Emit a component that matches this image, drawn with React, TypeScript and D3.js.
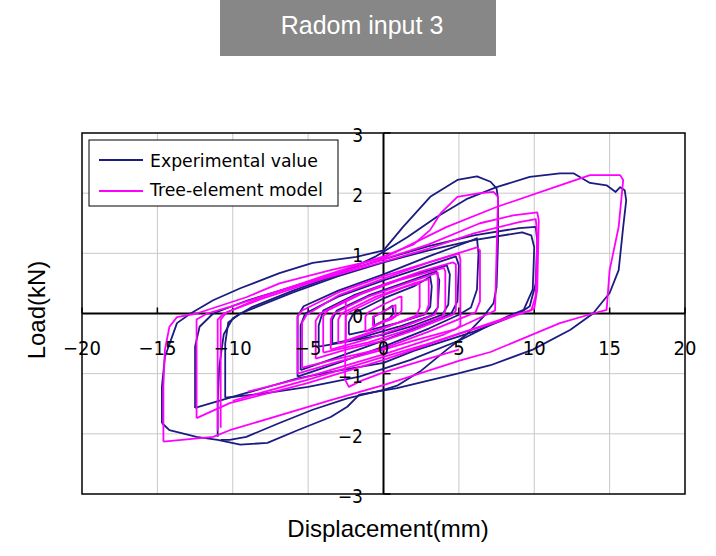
import React from "react";
import * as d3 from "d3";

type Pt = [number, number];

// ---- axis ticks ----
const xTicks = [-20, -15, -10, -5, 0, 5, 10, 15, 20];
const yTicks = [-3, -2, -1, 0, 1, 2, 3];
const xGrid = [-15, -10, -5, 5, 10, 15];
const yGrid = [-2, -1, 1, 2];

// ---- Experimental value (navy) loops: [displacement mm, load kN] ----
const expLoop1: Pt[] = [[-0.6,-0.05],[0.3,0.08],[0.6,0.13],[0.65,0.0],[0.4,-0.08],[-0.3,-0.16],[-0.6,-0.2],[-0.65,-0.06]];
const expLoop2: Pt[] = [[-2.3,-0.35],[-2.3,-0.15],[-2.0,0.0],[0,0.25],[2,0.45],[3.1,0.61],[3.2,0.45],[3.1,0.11],[2.7,-0.02],[1,-0.15],[-1,-0.28],[-2.3,-0.35]];
const expLoop2b: Pt[] = [[-3.4,-0.5],[-3.4,-0.1],[-3.1,0.05],[-1,0.3],[1.5,0.52],[3.5,0.7],[3.7,0.55],[3.6,0.1],[3.2,-0.03],[1,-0.22],[-1.5,-0.4],[-3.4,-0.5]];
const expLoop3: Pt[] = [[-4.3,-0.55],[-4.3,-0.2],[-4,0.05],[-2,0.3],[0,0.48],[2.5,0.68],[4.2,0.8],[4.4,0.65],[4.3,0.15],[3.9,-0.02],[2,-0.2],[0,-0.35],[-2.5,-0.47],[-4.3,-0.55]];
const expLoop4: Pt[] = [[-5.5,-0.94],[-5.5,-0.2],[-5.2,0.0],[-3,0.28],[0,0.55],[3,0.8],[4.8,0.95],[5.0,0.8],[4.9,0.2],[4.5,0.0],[2,-0.25],[0,-0.45],[-3,-0.72],[-5.5,-0.94]];
const expLoop5: Pt[] = [[-5.7,-1.05],[-5.7,-0.05],[-5.3,0.12],[-3,0.38],[0,0.65],[3,0.95],[5.5,1.18],[6.2,1.25],[6.3,1.0],[6.2,0.4],[5.8,0.1],[5,-0.02],[3,-0.25],[0,-0.55],[-3,-0.82],[-5.7,-1.05]];
const expLoop6: Pt[] = [[-10.5,-1.4],[-10.5,-0.5],[-10.3,-0.15],[-9.5,0.0],[-6,0.35],[-3,0.62],[0,0.85],[3,1.05],[6,1.22],[9.2,1.35],[9.8,1.3],[10,1.1],[9.9,0.4],[9.3,0.06],[8.2,-0.05],[5.1,-0.44],[1.8,-0.77],[-1.6,-1.05],[-5,-1.22],[-8,-1.33],[-10.5,-1.4]];
const expLoop7: Pt[] = [[-12.5,-1.57],[-12.5,-0.55],[-12.2,-0.22],[-11.3,0.0],[-9,0.22],[-5,0.52],[-2,0.75],[0,0.9],[3,1.12],[6,1.3],[9,1.42],[10.1,1.44],[10.2,1.2],[10.1,0.5],[9.7,0.12],[9,0.0],[6,-0.3],[2,-0.62],[0,-0.82],[-3,-0.95],[-5.7,-1.08],[-9.5,-1.35],[-12.5,-1.57]];
const expLoop8: Pt[] = [[-14.7,-1.82],[-14.7,-1.22],[-14.5,-0.72],[-13.7,-0.16],[-12.8,0.0],[-11.3,0.22],[-9.5,0.42],[-6.9,0.67],[-4.7,0.84],[-1.8,0.94],[0,1.05],[1.3,1.44],[3.1,1.94],[4.9,2.22],[6.2,2.28],[7.1,2.19],[7.5,2.08],[7.6,1.9],[7.6,1.2],[7.5,0.44],[7.3,0.17],[6.6,-0.06],[5.5,-0.35],[4.2,-0.6],[2.5,-0.95],[0.9,-1.2],[0,-1.27],[-2.4,-1.41],[-4.7,-1.6],[-6.9,-1.82],[-9.1,-2.05],[-10.2,-2.1],[-10.8,-2.1]];
const expLoop9: Pt[] = [[-11,-2.05],[-11,-1.5],[-10.9,-0.9],[-10.6,-0.35],[-10.0,-0.08],[-8.7,0.11],[-6,0.38],[-3,0.65],[-0.5,0.95],[1.6,1.27],[3.5,1.6],[5.5,1.9],[7.5,2.1],[9.7,2.27],[11.7,2.33],[12.6,2.33],[13.7,2.17],[14.8,2.13],[15.4,2.02],[15.7,2.1],[16.0,2.05],[16.1,1.88],[15.9,1.44],[15.6,0.72],[15.0,0.34],[13.9,0.0],[12.4,-0.27],[9.9,-0.6],[7.1,-0.86],[4.9,-1.0],[0.9,-1.24],[-1.6,-1.35],[-2.4,-1.55],[-3.5,-1.72],[-5.7,-1.94],[-7.7,-2.15],[-9.5,-2.18],[-11,-2.1],[-12.4,-2.05],[-14.2,-1.94],[-14.7,-1.82]];

// ---- Tree-element model (magenta) loops ----
const modLoop1: Pt[] = [[-0.4,-0.02],[0.5,0.1],[0.8,0.14],[0.8,-0.05],[0.5,-0.1],[-0.4,-0.18],[-0.7,-0.2],[-0.7,-0.05],[-0.4,-0.02]];
const modLoop2: Pt[] = [[-1.2,-0.3],[-1.2,-0.05],[-1.0,0.02],[0,0.15],[1.0,0.27],[1.2,0.28],[1.2,0.05],[1.0,-0.02],[0,-0.12],[-1.0,-0.28],[-1.2,-0.3]];
const modLoop3: Pt[] = [[-2.5,-0.45],[-2.5,-0.05],[-2.3,0.02],[0,0.3],[2.0,0.5],[3.0,0.57],[3.0,0.15],[2.8,0.0],[1,-0.15],[-1,-0.32],[-2.5,-0.45]];
const modLoop3b: Pt[] = [[-3.0,-0.5],[-3.0,-0.1],[-2.8,0.0],[-0.5,0.28],[1.5,0.45],[2.4,0.5],[2.4,0.1],[2.2,-0.03],[0.5,-0.2],[-1.5,-0.38],[-3.0,-0.5]];
const modLoop4: Pt[] = [[-3.5,-0.6],[-3.5,-0.1],[-3.3,0.0],[-1,0.28],[1.5,0.5],[3.6,0.68],[3.6,0.1],[3.4,-0.02],[1,-0.25],[-1,-0.42],[-3.5,-0.6]];
const modLoop4b: Pt[] = [[-4.0,-0.65],[-4.0,-0.05],[-3.7,0.05],[-1.5,0.32],[1,0.55],[4.0,0.76],[4.1,0.7],[4.1,0.05],[3.9,-0.05],[1.5,-0.28],[-1,-0.48],[-4.0,-0.65]];
const modLoop5: Pt[] = [[-4.5,-0.75],[-4.5,-0.12],[-4.2,0.0],[-2,0.28],[0,0.48],[2.5,0.7],[4.6,0.85],[4.8,0.82],[4.8,0.05],[4.6,-0.02],[2,-0.28],[0,-0.45],[-2.5,-0.6],[-4.5,-0.75]];
const modLoop6: Pt[] = [[-5.7,-1.0],[-5.7,-0.05],[-5.4,0.05],[-3,0.35],[0,0.62],[3,0.85],[5.0,1.0],[5.1,0.9],[5.1,-0.2],[4.8,-0.26],[2,-0.45],[0,-0.6],[-3,-0.8],[-5.7,-1.0]];
const modLoop7: Pt[] = [[-5.4,-0.9],[-5.4,-0.15],[-5.1,-0.02],[-3,0.3],[0,0.58],[3,0.85],[6.2,1.1],[6.4,1.05],[6.4,0.2],[6.1,0.02],[3,-0.3],[0,-0.58],[-3,-0.75],[-5.4,-0.9]];
const modLoop8: Pt[] = [[-12.4,-1.74],[-12.4,-0.1],[-11.7,0.0],[-10.2,0.11],[-6,0.45],[-2,0.75],[0,0.9],[3,1.15],[6.4,1.5],[8.6,1.63],[10.2,1.68],[10.3,1.55],[10.2,0.4],[10.0,0.08],[9.5,0.03],[7.3,-0.16],[5.1,-0.33],[2,-0.6],[0,-0.77],[-5.1,-1.16],[-10.2,-1.49],[-12.4,-1.74]];
const modLoop9: Pt[] = [[-11,-1.95],[-11,-0.1],[-10.6,0.0],[-8,0.25],[-4,0.58],[0,0.86],[3,1.08],[6,1.33],[9,1.52],[10.1,1.57],[10.2,1.3],[10.1,0.3],[9.8,0.05],[9,0.0],[6,-0.25],[3,-0.5],[0,-0.72],[-5,-1.1],[-10,-1.45]];
const modLoop10: Pt[] = [[-10.8,-1.9],[-10.8,-0.1],[-10.4,0.02],[-8,0.28],[-4,0.62],[0,0.95],[2,1.15],[3.1,1.39],[3.8,1.67],[4.9,1.94],[6.4,2.0],[7.3,2.02],[7.6,1.94],[7.5,1.0],[7.4,0.05],[7,0.0],[4,-0.35],[0,-0.68],[-5,-1.05],[-9,-1.3]];
const modLoop11: Pt[] = [[-14.6,-2.13],[-14.6,-1.2],[-14.5,-0.6],[-14.2,-0.22],[-13.7,-0.06],[-12.4,0.0],[-9.1,0.27],[-6.9,0.5],[-3.5,0.72],[0,0.92],[2,1.17],[4.2,1.44],[7.5,1.77],[11.7,2.13],[13.7,2.3],[15.7,2.3],[15.9,2.22],[15.6,1.44],[15.0,0.72],[14.8,0.06],[13.9,0.0],[11.7,-0.16],[7.1,-0.64],[5.1,-0.78],[0,-1.19],[-3.5,-1.44],[-10.2,-1.94],[-11.3,-2.05],[-14.6,-2.13]];
const modLoop12: Pt[] = [[-2.5,0.2],[-2.55,-1.1],[-2.3,-1.22],[-1.5,-1.12],[0,-0.98],[3,-0.75],[5,-0.6]];

const expLoops = [expLoop1, expLoop2, expLoop2b, expLoop3, expLoop4, expLoop5, expLoop6, expLoop7, expLoop8, expLoop9];
const modLoops = [modLoop1, modLoop2, modLoop3, modLoop3b, modLoop4, modLoop4b, modLoop5, modLoop6, modLoop7, modLoop8, modLoop9, modLoop10, modLoop11, modLoop12];

const NAVY = "#1c1c80";
const MAGENTA = "#ff00ff";

const W = 716, H = 556;
const PL = 82, PR = 685, PT = 133, PB = 494;

const fmt = (v: number) => (v < 0 ? "\u2212" + Math.abs(v) : String(v));

export default function App() {
  const x = d3.scaleLinear().domain([-20, 20]).range([PL, PR]);
  const y = d3.scaleLinear().domain([-3, 3]).range([PB, PT]);
  const line = d3.line<Pt>().x((d) => x(d[0])).y((d) => y(d[1]));
  const tickFont = "'Liberation Sans Narrow', 'DejaVu Sans Condensed', 'Liberation Sans', sans-serif";
  const labelFont = "'Liberation Sans', Arial, sans-serif";

  return (
    <svg width={W} height={H} style={{ position: "absolute", left: 0, top: 0, background: "#fff" }}>
      {/* title */}
      <rect x={220} y={0} width={276} height={56} fill="#878787" />
      <text x={362} y={34} textAnchor="middle" fill="#fff" fontFamily={labelFont} fontSize={25}>
        Radom input 3
      </text>

      {/* grid */}
      {xGrid.map((v) => (
        <line key={"gx" + v} x1={x(v)} x2={x(v)} y1={PT} y2={PB} stroke="#c8c8c8" strokeWidth={1} />
      ))}
      {yGrid.map((v) => (
        <line key={"gy" + v} x1={PL} x2={PR} y1={y(v)} y2={y(v)} stroke="#c8c8c8" strokeWidth={1} />
      ))}

      {/* axes through origin */}
      <line x1={PL} x2={PR} y1={y(0)} y2={y(0)} stroke="#000" strokeWidth={2} />
      <line x1={x(0)} x2={x(0)} y1={PT} y2={PB} stroke="#000" strokeWidth={2} />
      {xTicks.map((v) => (
        <line key={"tx" + v} x1={x(v)} x2={x(v)} y1={y(0)} y2={y(0) - 6} stroke="#000" strokeWidth={1.5} />
      ))}
      {yTicks.map((v) => (
        <line key={"ty" + v} x1={x(0)} x2={x(0) + 7} y1={y(v)} y2={y(v)} stroke="#000" strokeWidth={1.5} />
      ))}

      {/* data */}
      {expLoops.map((pts, i) => (
        <path key={"e" + i} d={line(pts) || ""} fill="none" stroke={NAVY} strokeWidth={1.8} strokeLinejoin="round" />
      ))}
      {modLoops.map((pts, i) => (
        <path key={"m" + i} d={line(pts) || ""} fill="none" stroke={MAGENTA} strokeWidth={1.8} strokeLinejoin="round" />
      ))}

      {/* border */}
      <rect x={PL} y={PT} width={PR - PL} height={PB - PT} fill="none" stroke="#000" strokeWidth={1.5} />

      {/* tick labels */}
      {xTicks.map((v) => (
        <text key={"lx" + v} x={x(v)} y={355} textAnchor="middle" fontFamily={tickFont} fontSize={20} fill="#000">
          {fmt(v)}
        </text>
      ))}
      {yTicks.map((v) => (
        <text key={"ly" + v} x={363} y={y(v) + 9} textAnchor="end" fontFamily={tickFont} fontSize={19} fill="#000">
          {fmt(v)}
        </text>
      ))}

      {/* legend */}
      <rect x={89} y={140} width={249} height={66} fill="#fff" stroke="#000" strokeWidth={1} />
      <line x1={99} x2={143} y1={160} y2={160} stroke={NAVY} strokeWidth={2} />
      <text x={150} y={167} fontFamily="'DejaVu Sans', sans-serif" fontSize={17.3} fill="#000">Experimental value</text>
      <line x1={99} x2={143} y1={191} y2={191} stroke={MAGENTA} strokeWidth={2} />
      <text x={150} y={196} fontFamily="'DejaVu Sans', sans-serif" fontSize={17.3} fill="#000">Tree-element model</text>

      {/* axis titles */}
      <text x={388} y={537} textAnchor="middle" fontFamily={labelFont} fontSize={24} fill="#000">
        Displacement(mm)
      </text>
      <text transform="translate(45,310) rotate(-90)" textAnchor="middle" fontFamily={labelFont} fontSize={24} fill="#000">
        Load(kN)
      </text>
    </svg>
  );
}
